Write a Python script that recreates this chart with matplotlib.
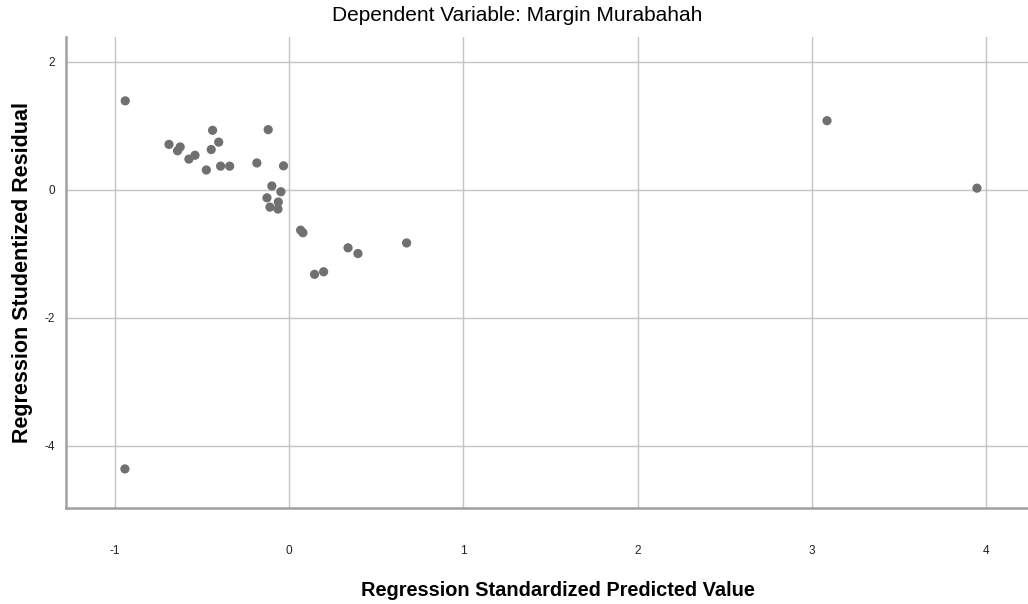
import matplotlib
matplotlib.use("Agg")
import matplotlib.pyplot as plt

# standardized predicted value (x) vs studentized residual (y)
pred_std = [-0.939, -0.438, -0.119, -0.688, -0.624, -0.639, -0.403, -0.446,
            -0.539, -0.574, -0.474, -0.392, -0.340, -0.184, -0.031, -0.098,
            -0.046, -0.126, -0.061, -0.109, -0.063, 0.067, 0.080, 0.339,
            0.396, 0.675, 0.147, 0.199, -0.941, 3.087, 3.947]
resid_stud = [1.39, 0.93, 0.94, 0.71, 0.67, 0.61, 0.745, 0.63,
              0.54, 0.48, 0.31, 0.37, 0.37, 0.42, 0.375, 0.06,
              -0.03, -0.125, -0.19, -0.27, -0.30, -0.63, -0.67, -0.906,
              -0.995, -0.83, -1.32, -1.28, -4.36, 1.08, 0.026]

x_ticks = [-1, 0, 1, 2, 3, 4]
y_ticks = [2, 0, -2, -4]

plt.rcParams["font.family"] = ["Liberation Sans", "DejaVu Sans"]

fig = plt.figure(figsize=(10.28, 6.04), dpi=100)
ax = fig.add_axes([0.0642, 0.159, 0.9358, 0.780])

ax.set_xlim(-1.279, 4.24)
ax.set_ylim(-4.97, 2.39)
ax.set_xticks(x_ticks)
ax.set_yticks(y_ticks)
ax.set_xticklabels([str(t) for t in x_ticks])
ax.set_yticklabels([str(t) for t in y_ticks])
ax.tick_params(length=0, labelsize=8.5, colors="#222222")
ax.tick_params(axis="x", pad=27)
ax.tick_params(axis="y", pad=8)

ax.grid(True, color="#c4c4c4", linewidth=1.0)
ax.set_axisbelow(True)

for side in ["top", "right"]:
    ax.spines[side].set_visible(False)
for side in ["left", "bottom"]:
    ax.spines[side].set_color("#a0a0a0")
    ax.spines[side].set_linewidth(1.8)

ax.scatter(pred_std, resid_stud, s=44, color="#707070", edgecolors="none", zorder=3)

ax.set_xlabel("Regression Standardized Predicted Value", fontsize=14.4,
              fontweight="bold", va="center")
ax.xaxis.set_label_coords(0.511, -0.176)
ax.set_ylabel("Regression Studentized Residual", fontsize=15.5,
              fontweight="bold", va="center")
ax.yaxis.set_label_coords(-0.045, 0.5)
fig.text(0.503, 0.975, "Dependent Variable: Margin Murabahah", ha="center",
         va="center", fontsize=15)

fig.savefig("out.png", dpi=100, facecolor="white")
